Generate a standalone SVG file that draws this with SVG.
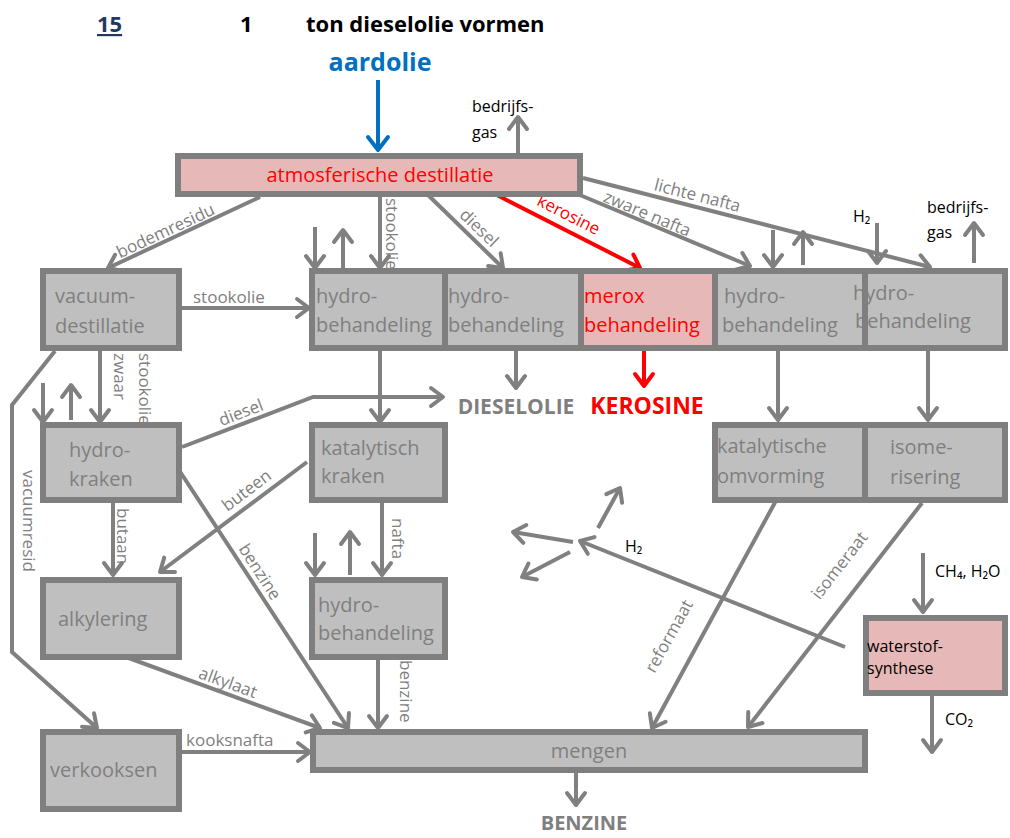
<svg xmlns="http://www.w3.org/2000/svg" width="1010" height="838" viewBox="0 0 1010 838">
<defs>
<style>
text{font-family:"Open Sans","Noto Sans","DejaVu Sans",sans-serif}
.box{fill:#bfbfbf;stroke:#7f7f7f;stroke-width:6}
.pink{fill:#e6b8b7;stroke:#7f7f7f;stroke-width:6}
.nt{font-size:20px;fill:#7f7f7f}
.rt{font-size:20px;fill:#ff0000}
.bt{font-size:16px;fill:#000}
.lb{font-size:17px;fill:#7f7f7f}
.c{fill:none;stroke:#808080;stroke-width:4;marker-end:url(#ag)}
.cr{fill:none;stroke:#ff0000;stroke-width:4;marker-end:url(#ar)}
.cb{fill:none;stroke:#0070c0;stroke-width:4;marker-end:url(#ab)}
</style>
<marker id="ag" markerUnits="userSpaceOnUse" markerWidth="30" markerHeight="30" viewBox="-15 -15 30 30" refX="0" refY="0" orient="auto" overflow="visible"><path d="M-12,-9 L0,0 L-12,9" fill="none" stroke="#808080" stroke-width="4" stroke-linecap="round" stroke-linejoin="round"/></marker>
<marker id="ar" markerUnits="userSpaceOnUse" markerWidth="30" markerHeight="30" viewBox="-15 -15 30 30" refX="0" refY="0" orient="auto" overflow="visible"><path d="M-12,-9 L0,0 L-12,9" fill="none" stroke="#ff0000" stroke-width="4" stroke-linecap="round" stroke-linejoin="round"/></marker>
<marker id="ab" markerUnits="userSpaceOnUse" markerWidth="30" markerHeight="30" viewBox="-15 -15 30 30" refX="0" refY="0" orient="auto" overflow="visible"><path d="M-13,-10 L0,0 L-13,10" fill="none" stroke="#0070c0" stroke-width="4" stroke-linecap="round" stroke-linejoin="round"/></marker>
</defs>
<rect width="1010" height="838" fill="#fff"/>

<g id="title">
<text x="97" y="32" font-size="22" font-weight="bold" fill="#1f3864" text-decoration="underline">15</text>
<text x="240" y="32" font-size="22" font-weight="bold" fill="#000">1</text>
<text x="306" y="32" font-size="22" font-weight="bold" fill="#000">ton dieselolie vormen</text>
<text x="380" y="71" font-size="25" font-weight="bold" fill="#0070c0" text-anchor="middle">aardolie</text>
</g>

<g id="connectors">
<path class="cb" d="M378,80 V150"/>
<path class="c" d="M518,153 V117"/>
<path class="c" d="M260,197 L108,268"/>
<path class="c" d="M380,197 V268"/>
<path class="c" d="M315,227 V268"/>
<path class="c" d="M343,268 V230"/>
<path class="c" d="M427,194 L503,268"/>
<path class="cr" d="M495,194 L640,268"/>
<path class="c" d="M575,193 L750,266"/>
<path class="c" d="M583,178 L930,267"/>
<path class="c" d="M773,230 V267"/>
<path class="c" d="M803,265 V232"/>
<path class="c" d="M877,223 V263"/>
<path class="c" d="M974,263 V223"/>
<path class="c" d="M182,308 H309"/>
<path class="c" d="M100,351 V422"/>
<path class="c" d="M43,383 V422"/>
<path class="c" d="M71,420 V385"/>
<path class="c" d="M55,351 L12,405 V652 L97,728"/>
<path class="c" d="M182,447 L313,397 H443"/>
<path class="c" d="M380,351 V422"/>
<path class="c" d="M516,351 V388"/>
<path class="cr" d="M644,351 V386"/>
<path class="c" d="M778,351 V420"/>
<path class="c" d="M928,351 V420"/>
<path class="c" d="M113,503 V575"/>
<path class="c" d="M307,462 L160,572"/>
<path class="c" d="M177,467 L348,728"/>
<path class="c" d="M382,503 V575"/>
<path class="c" d="M315,533 V575"/>
<path class="c" d="M350,575 V532"/>
<path class="c" d="M378,657 V728"/>
<path class="c" d="M115,653 L320,728"/>
<path class="c" d="M182,752 H310"/>
<path class="c" d="M778,497 L652,728"/>
<path class="c" d="M922,503 L748,727"/>
<path class="c" d="M845,647 L580,541"/>
<path class="c" d="M598,528 L620,488"/>
<path class="c" d="M573,542 L513,532"/>
<path class="c" d="M570,552 L522,577"/>
<path class="c" d="M923,553 V612"/>
<path class="c" d="M932,696 V752"/>
<path class="c" d="M576,773 V805"/>

<text class="bt" x="472" y="112">bedrijfs-</text>
<text class="bt" x="472" y="138">gas</text>
<text class="bt" x="927" y="213">bedrijfs-</text>
<text class="bt" x="927" y="238">gas</text>
<text class="bt" x="853" y="222" font-size="18">H₂</text>
<text class="bt" x="625" y="552" font-size="17">H₂</text>
<text class="bt" x="935" y="577">CH₄, H₂O</text>
<text class="bt" x="945" y="725">CO₂</text>

<text class="lb" transform="translate(168,236) rotate(-25)" text-anchor="middle">bodemresidu</text>
<text class="lb" transform="translate(386,198) rotate(90)">stookolie</text>
<text class="lb" transform="translate(475,232) rotate(44)" text-anchor="middle">diesel</text>
<text class="lb" transform="translate(566,220) rotate(27)" text-anchor="middle" style="fill:#ff0000">kerosine</text>
<text class="lb" transform="translate(645,219) rotate(22.6)" text-anchor="middle">zware nafta</text>
<text class="lb" transform="translate(696,201) rotate(14.4)" text-anchor="middle">lichte nafta</text>
<text class="lb" x="193" y="303">stookolie</text>
<text class="lb" transform="translate(114,353) rotate(90)">zwaar</text>
<text class="lb" transform="translate(139,353) rotate(90)">stookolie</text>
<text class="lb" transform="translate(23,470) rotate(90)">vacuumresid</text>
<text class="lb" transform="translate(243,418) rotate(-21)" text-anchor="middle">diesel</text>
<text class="lb" transform="translate(117,508) rotate(90)">butaan</text>
<text class="lb" transform="translate(250,495) rotate(-37)" text-anchor="middle">buteen</text>
<text class="lb" transform="translate(255,575) rotate(57)" text-anchor="middle">benzine</text>
<text class="lb" transform="translate(392,518) rotate(90)">nafta</text>
<text class="lb" transform="translate(400,660) rotate(90)">benzine</text>
<text class="lb" transform="translate(226,688) rotate(20)" text-anchor="middle">alkylaat</text>
<text class="lb" x="186" y="746" font-size="16">kooksnafta</text>
<text class="lb" transform="translate(674,639) rotate(-61)" text-anchor="middle">reformaat</text>
<text class="lb" transform="translate(844,569) rotate(-52)" text-anchor="middle">isomeraat</text>
</g>

<g id="atm">
<rect class="pink" x="178" y="156" width="402" height="38"/>
<text class="rt" x="380" y="182" text-anchor="middle">atmosferische destillatie</text>
</g>
<g id="vacuum">
<rect class="box" x="43" y="271" width="136" height="77"/>
<text class="nt" x="55" y="303">vacuum-</text>
<text class="nt" x="55" y="333">destillatie</text>
</g>
<g id="hydro1">
<rect class="box" x="312" y="271" width="133" height="77"/>
<text class="nt" x="316" y="303">hydro-</text>
<text class="nt" x="316" y="332">behandeling</text>
</g>
<g id="hydro2">
<rect class="box" x="445" y="271" width="136" height="77"/>
<text class="nt" x="448" y="303">hydro-</text>
<text class="nt" x="448" y="332">behandeling</text>
</g>
<g id="merox">
<rect class="pink" x="581" y="271" width="134" height="77"/>
<text class="rt" x="584" y="303">merox</text>
<text class="rt" x="584" y="332">behandeling</text>
</g>
<g id="hydro3">
<rect class="box" x="715" y="271" width="150" height="77"/>
<text class="nt" x="724" y="303">hydro-</text>
<text class="nt" x="722" y="332">behandeling</text>
</g>
<g id="hydro4">
<rect class="box" x="865" y="271" width="140" height="77"/>
<text class="nt" x="853" y="300">hydro-</text>
<text class="nt" x="855" y="328">behandeling</text>
</g>
<g id="hydrokraken">
<rect class="box" x="43" y="425" width="136" height="75"/>
<text class="nt" x="69" y="457">hydro-</text>
<text class="nt" x="69" y="486">kraken</text>
</g>
<g id="katkraken">
<rect class="box" x="312" y="425" width="133" height="75"/>
<text class="nt" x="321" y="455">katalytisch</text>
<text class="nt" x="321" y="483">kraken</text>
</g>
<g id="katomvorming">
<rect class="box" x="715" y="425" width="150" height="75"/>
<text class="nt" x="717" y="453">katalytische</text>
<text class="nt" x="717" y="483">omvorming</text>
</g>
<g id="isomerisering">
<rect class="box" x="865" y="425" width="140" height="75"/>
<text class="nt" x="890" y="454">isome-</text>
<text class="nt" x="890" y="484">risering</text>
</g>
<g id="alkylering">
<rect class="box" x="43" y="580" width="136" height="77"/>
<text class="nt" x="58" y="626">alkylering</text>
</g>
<g id="hydro5">
<rect class="box" x="312" y="580" width="133" height="77"/>
<text class="nt" x="318" y="612">hydro-</text>
<text class="nt" x="318" y="640">behandeling</text>
</g>
<g id="waterstof">
<rect class="pink" x="866" y="618" width="139" height="75"/>
<text class="bt" x="867" y="652">waterstof-</text>
<text class="bt" x="867" y="674">synthese</text>
</g>
<g id="verkooksen">
<rect class="box" x="43" y="732" width="136" height="77"/>
<text class="nt" x="50" y="777">verkooksen</text>
</g>
<g id="mengen">
<rect class="box" x="313" y="732" width="552" height="38"/>
<text class="nt" x="589" y="758" text-anchor="middle">mengen</text>
</g>
<g id="outputs">
<text x="516" y="414" font-size="21" font-weight="bold" fill="#7f7f7f" text-anchor="middle">DIESELOLIE</text>
<text x="647" y="414" font-size="23" font-weight="bold" fill="#ff0000" text-anchor="middle">KEROSINE</text>
<text x="584" y="830" font-size="20" font-weight="bold" fill="#7f7f7f" text-anchor="middle">BENZINE</text>
</g>
</svg>
